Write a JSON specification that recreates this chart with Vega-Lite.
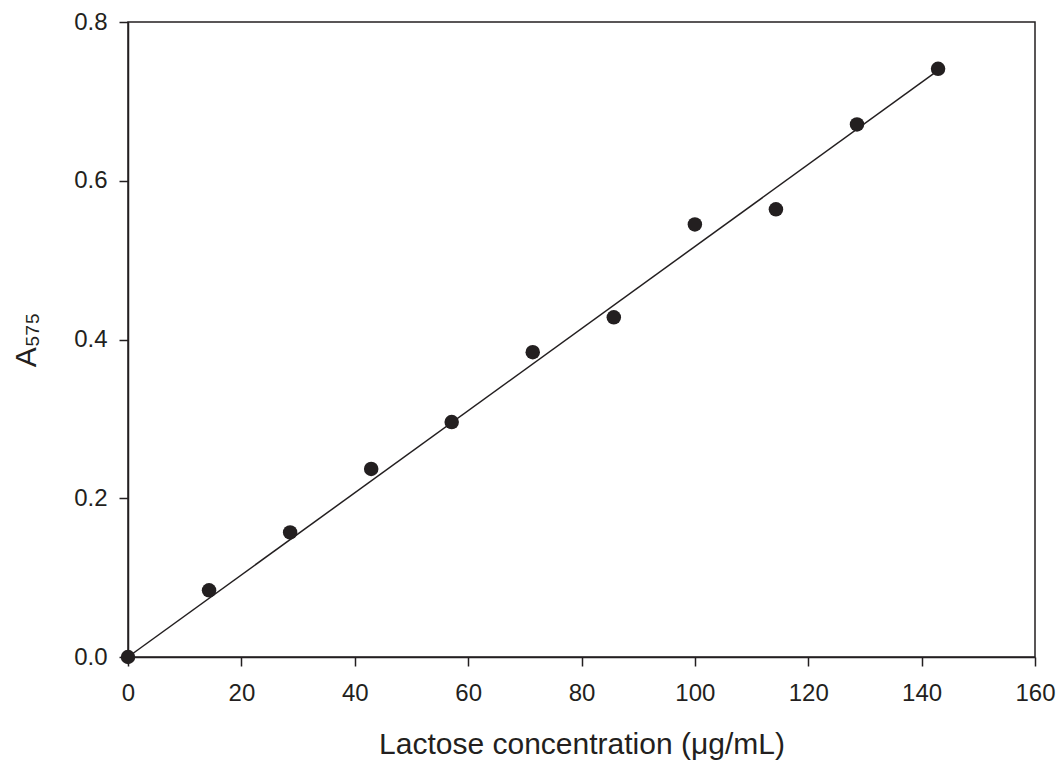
{
  "$schema": "https://vega.github.io/schema/vega-lite/v6.json",
  "width": 907,
  "height": 635,
  "autosize": {"type": "none"},
  "padding": {"left": 128, "top": 22, "right": 24, "bottom": 106},
  "background": "white",
  "config": {
    "font": "Liberation Sans",
    "view": {"stroke": "#231f20", "strokeWidth": 1.5},
    "axis": {
      "grid": false,
      "domainColor": "#231f20",
      "domainWidth": 1.5,
      "tickColor": "#231f20",
      "tickWidth": 1.5,
      "tickSize": 9,
      "labelFont": "Liberation Sans",
      "labelFontSize": 24,
      "labelColor": "#231f20",
      "titleFont": "Liberation Sans",
      "titleFontSize": 30,
      "titleFontWeight": "normal",
      "titleColor": "#231f20"
    }
  },
  "datasets": {
    "pts": [
      {"conc": 0, "abs": 0.0},
      {"conc": 14.3, "abs": 0.084},
      {"conc": 28.6, "abs": 0.157},
      {"conc": 42.9, "abs": 0.237},
      {"conc": 57.1, "abs": 0.296},
      {"conc": 71.4, "abs": 0.384},
      {"conc": 85.7, "abs": 0.428},
      {"conc": 100.0, "abs": 0.545},
      {"conc": 114.3, "abs": 0.564},
      {"conc": 128.6, "abs": 0.671},
      {"conc": 142.9, "abs": 0.741}
    ],
    "fit": [
      {"conc": 0, "abs": 0.0},
      {"conc": 142.9, "abs": 0.739}
    ]
  },
  "layer": [
    {
      "data": {"name": "fit"},
      "mark": {"type": "line", "color": "#231f20", "strokeWidth": 1.5, "clip": false},
      "encoding": {
        "x": {"field": "conc", "type": "quantitative"},
        "y": {"field": "abs", "type": "quantitative"}
      }
    },
    {
      "data": {"name": "pts"},
      "mark": {"type": "point", "filled": true, "shape": "circle", "size": 210, "color": "#231f20", "opacity": 1, "clip": false},
      "encoding": {
        "x": {
          "field": "conc",
          "type": "quantitative",
          "scale": {"domain": [0, 160], "nice": false, "zero": false},
          "axis": {"values": [0, 20, 40, 60, 80, 100, 120, 140, 160], "title": "Lactose concentration (μg/mL)", "labelFlush": false, "labelPadding": 15, "titlePadding": 24}
        },
        "y": {
          "field": "abs",
          "type": "quantitative",
          "scale": {"domain": [0, 0.8], "nice": false},
          "axis": {"values": [0, 0.2, 0.4, 0.6, 0.8], "format": ".1f", "title": "A₅₇₅", "titleFontSize": 30, "labelPadding": 12, "titlePadding": 32}
        }
      }
    }
  ]
}
